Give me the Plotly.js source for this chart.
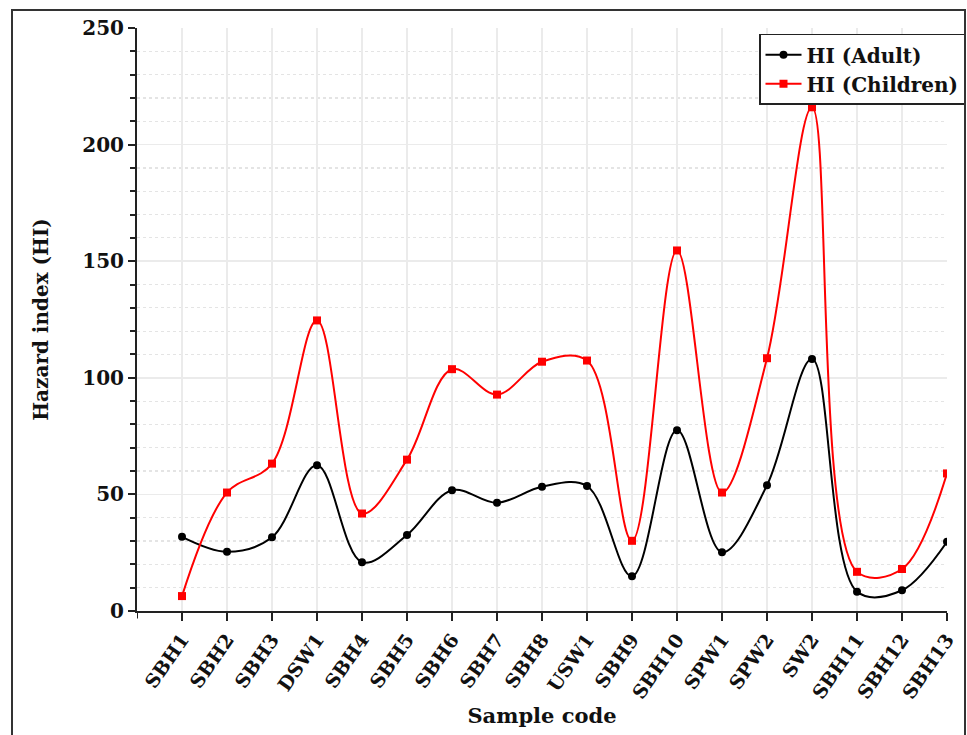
<!DOCTYPE html>
<html>
<head>
<meta charset="utf-8">
<script src="https://cdn.plot.ly/plotly-3.0.1.min.js"></script>
<style>
  html, body { margin: 0; padding: 0; background: #fff; }
  #wrap { position: relative; width: 967px; height: 735px; }
  #frame { position: absolute; left: 11px; top: 9px; width: 955px; height: 740px; border: 2px solid #333; box-sizing: border-box; pointer-events: none; }
  #chart { position: absolute; left: 0; top: 0; width: 967px; height: 735px; }
</style>
</head>
<body>
<div id="wrap">
  <div id="chart"></div>
  <div id="frame"></div>
</div>
<script>
const categories = ["SBH1","SBH2","SBH3","DSW1","SBH4","SBH5","SBH6","SBH7","SBH8","USW1","SBH9","SBH10","SPW1","SPW2","SW2","SBH11","SBH12","SBH13"];
const hiAdult    = [31.8, 25.4, 31.6, 62.5, 20.9, 32.6, 51.8, 46.4, 53.3, 53.6, 14.9, 77.5, 25.2, 53.9, 108.1, 8.3, 8.9, 29.7];
const hiChildren = [6.4, 50.8, 63.2, 124.6, 41.8, 64.9, 103.7, 92.8, 106.9, 107.4, 30.1, 154.6, 50.8, 108.4, 216.0, 16.8, 18.0, 59.0];
const seriesNames = ["HI (Adult)", "HI (Children)"];

const FONT = "DejaVu Serif, Liberation Serif, serif";

const traces = [
  {
    x: categories, y: hiAdult, name: seriesNames[0], type: "scatter", mode: "lines+markers",
    line: { color: "#000000", width: 2, shape: "spline", smoothing: 1 },
    marker: { symbol: "circle", size: 8, color: "#000000" }
  },
  {
    x: categories, y: hiChildren, name: seriesNames[1], type: "scatter", mode: "lines+markers",
    line: { color: "#ff0000", width: 2, shape: "spline", smoothing: 1 },
    marker: { symbol: "square", size: 8, color: "#ff0000" }
  }
];

const layout = {
  width: 967, height: 735,
  margin: { l: 137, r: 2, t: 28, b: 124 },
  paper_bgcolor: "rgba(0,0,0,0)", plot_bgcolor: "rgba(0,0,0,0)",
  font: { family: FONT, color: "#111", size: 18, weight: "bold" },
  showlegend: true,
  legend: {
    x: 1, xanchor: "right", y: 0.99, yanchor: "top",
    bgcolor: "#ffffff", bordercolor: "#222", borderwidth: 1.5,
    font: { family: FONT, size: 20, color: "#111", weight: "bold" },
    tracegroupgap: 0, itemwidth: 36
  },
  xaxis: {
    type: "category", range: [-1, 17], domain: [0, 810 / 828],
    showline: true, linecolor: "#222", linewidth: 2,
    ticks: "outside", ticklen: 8, tickwidth: 2, tickcolor: "#222",
    showgrid: true, gridcolor: "#ebebeb", gridwidth: 1.5,
    tickangle: -55, tickfont: { family: FONT, size: 19, color: "#111", weight: "bold" },
    zeroline: false,
    title: { text: "Sample code", font: { family: FONT, size: 21, color: "#111", weight: "bold" }, standoff: 6 }
  },
  yaxis: {
    range: [0, 250], tickvals: [0, 50, 100, 150, 200, 250],
    showline: true, linecolor: "#222", linewidth: 2,
    ticks: "outside", ticklen: 7, tickwidth: 2, tickcolor: "#222",
    showgrid: true, gridcolor: "#ebebeb", gridwidth: 1.5,
    zeroline: false,
    tickfont: { family: FONT, size: 20, color: "#111", weight: "bold" },
    minor: { dtick: 10, tick0: 0, ticks: "outside", ticklen: 5, tickwidth: 2, tickcolor: "#222", showgrid: true, gridcolor: "#e4e4e4", griddash: "dot", gridwidth: 1.2 },
    title: { text: "Hazard index (HI)", font: { family: FONT, size: 20, color: "#111", weight: "bold" }, standoff: 28 }
  },
  shapes: [
    { type: "line", xref: "x", yref: "paper", x0: -1, x1: -1, y0: 0, y1: -0.013, line: { color: "#222", width: 2 } }
  ]
};

Plotly.newPlot("chart", traces, layout, { displayModeBar: false, staticPlot: true });
</script>
</body>
</html>
